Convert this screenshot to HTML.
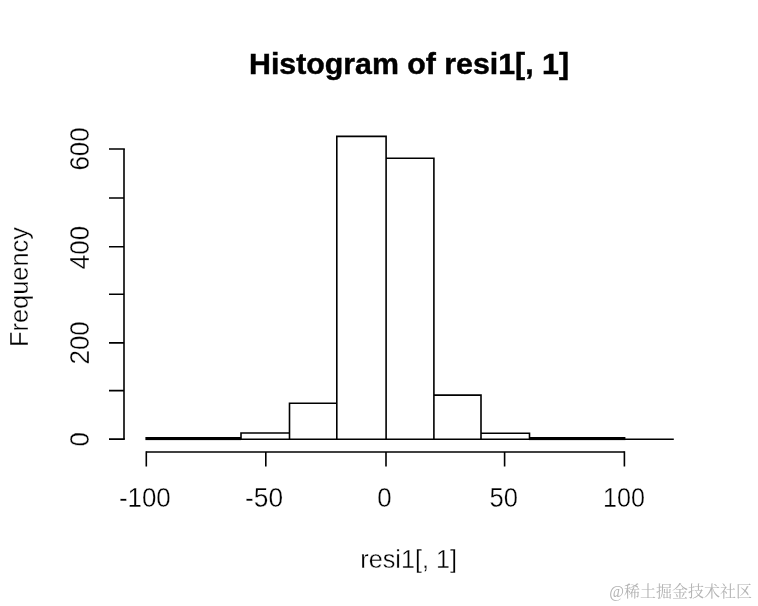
<!DOCTYPE html>
<html>
<head>
<meta charset="utf-8">
<title>Histogram of resi1[, 1]</title>
<style>
html,body{margin:0;padding:0;background:#fff;}
body{width:758px;height:606px;overflow:hidden;position:relative;}
svg{position:absolute;left:0;top:0;display:block;filter:blur(0.45px);}
text{font-family:"Liberation Sans",sans-serif;fill:#000;}
.ax{font-size:27.8px;stroke:#fff;stroke-width:0.35px;}
.lb{font-size:26.6px;}
.ttl{font-size:30px;font-weight:bold;stroke:#000;stroke-width:0.45px;}
.wm{font-family:"Liberation Serif","Noto Serif CJK SC",serif;font-size:16px;fill:#b4b4b4;}
.ln{stroke:#000;stroke-width:1.6;fill:none;stroke-linecap:butt;stroke-linejoin:miter;}
</style>
</head>
<body>
<svg width="758" height="606" viewBox="0 0 758 606">
<rect x="0" y="0" width="758" height="606" fill="#ffffff"/>
<!-- title -->
<text class="ttl" x="409" y="73.7" text-anchor="middle" textLength="320" lengthAdjust="spacingAndGlyphs">Histogram of resi1[, 1]</text>
<!-- y axis -->
<path class="ln" d="M124 149 V439.1"/>
<path class="ln" d="M109 149 H124.85 M109 198 H124 M109 246.7 H124 M109 294.3 H124 M109 342.9 H124 M109 390.6 H124 M109 439.1 H124.85"/>
<text class="ax" transform="translate(88.7 439.3) rotate(-90)" text-anchor="middle" textLength="14.4" lengthAdjust="spacingAndGlyphs">0</text>
<text class="ax" transform="translate(88.7 342.9) rotate(-90)" text-anchor="middle" textLength="43.3" lengthAdjust="spacingAndGlyphs">200</text>
<text class="ax" transform="translate(88.7 247.5) rotate(-90)" text-anchor="middle" textLength="43.3" lengthAdjust="spacingAndGlyphs">400</text>
<text class="ax" transform="translate(88.7 148.95) rotate(-90)" text-anchor="middle" textLength="43.3" lengthAdjust="spacingAndGlyphs">600</text>
<text class="ax lb" transform="translate(27.8 287) rotate(-90)" text-anchor="middle" textLength="120" lengthAdjust="spacingAndGlyphs">Frequency</text>
<!-- x axis -->
<path class="ln" d="M146.3 452 H624.4"/>
<path class="ln" d="M146.3 451.2 V466.4 M265.8 452 V466.4 M386 452 V466.4 M504.6 452 V466.4 M624.4 451.2 V466.4"/>
<text class="ax" x="144.85" y="506.8" text-anchor="middle" textLength="51.9" lengthAdjust="spacingAndGlyphs">-100</text>
<text class="ax" x="264.1" y="506.8" text-anchor="middle" textLength="38" lengthAdjust="spacingAndGlyphs">-50</text>
<text class="ax" x="384.5" y="506.8" text-anchor="middle" textLength="14.4" lengthAdjust="spacingAndGlyphs">0</text>
<text class="ax" x="503.7" y="506.8" text-anchor="middle" textLength="28.4" lengthAdjust="spacingAndGlyphs">50</text>
<text class="ax" x="624.05" y="506.8" text-anchor="middle" textLength="41.9" lengthAdjust="spacingAndGlyphs">100</text>
<text class="ax lb" x="408.6" y="567.6" text-anchor="middle" textLength="96.6" lengthAdjust="spacingAndGlyphs">resi1[, 1]</text>
<!-- bars -->
<rect x="145.4" y="437" width="95.6" height="3.1" fill="#000"/>
<rect x="529" y="437" width="96.4" height="3.1" fill="#000"/>
<path class="ln" d="M241 439.2 V433 H289.5 M289.5 439.2 V403.2 H336.8 M336.8 439.2 V136.4 H386.1 V439.2 M386.1 158.3 H433.9 V439.2 M433.9 395.1 H481 V439.2 M481 433.2 H529.5 V439.2"/>
<path class="ln" d="M241 439.2 H673.8"/>
<!-- watermark -->
<text class="wm" x="752" y="597" text-anchor="end">@稀土掘金技术社区</text>
</svg>
</body>
</html>
